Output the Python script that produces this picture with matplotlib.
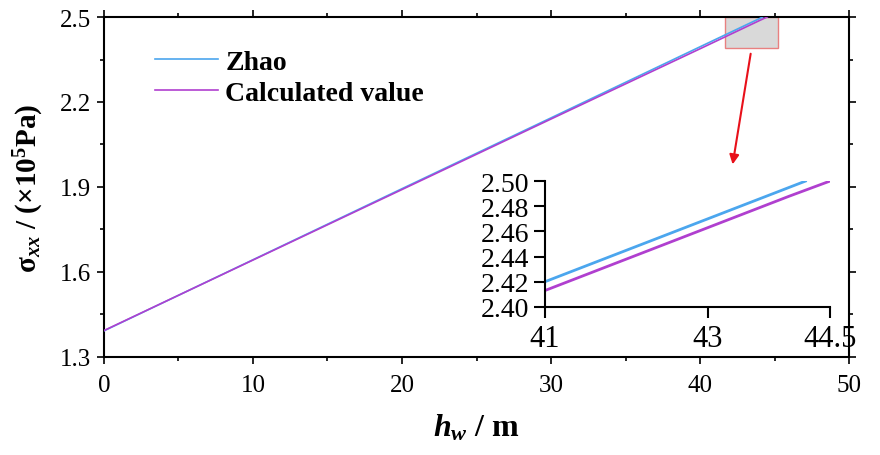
import matplotlib
matplotlib.use("Agg")
import matplotlib.pyplot as plt
from matplotlib.patches import Rectangle
from matplotlib.ticker import FixedLocator

plt.rcParams['font.family'] = ['Liberation Serif', 'DejaVu Serif']
plt.rcParams['mathtext.fontset'] = 'custom'
plt.rcParams['mathtext.rm'] = 'Liberation Serif:bold'
plt.rcParams['mathtext.it'] = 'Liberation Serif:italic:bold'
plt.rcParams['mathtext.bf'] = 'Liberation Serif:bold'

# Data
hw_zhao = [0, 10, 20, 30, 40, 41, 42, 43, 44, 44.2]
sig_zhao = [1.392, 1.643, 1.894, 2.144, 2.395, 2.420, 2.445, 2.470, 2.495, 2.500]
hw_calc = [0, 10, 20, 30, 40, 41, 42, 43, 44, 44.5]
sig_calc = [1.393, 1.642, 1.891, 2.140, 2.388, 2.413, 2.438, 2.463, 2.488, 2.500]
labels = ["Zhao", "Calculated value"]
x_ticks = [0, 10, 20, 30, 40, 50]
y_ticks = [1.3, 1.6, 1.9, 2.2, 2.5]
y_ticklabels = ['1.3', '1.6', '1.9', '2.2', '2.5']
inset_x_ticks = [41, 43, 44.5]
inset_x_labels = ['41', '43', '44.5']
inset_y_ticks = [2.40, 2.42, 2.44, 2.46, 2.48, 2.50]
inset_y_labels = ['2.40', '2.42', '2.44', '2.46', '2.48', '2.50']
c_zhao = "#4ba6ee"
c_calc = "#b03fcf"

fig = plt.figure(figsize=(8.8, 4.56), dpi=100)
ax = fig.add_axes([0.118, 0.215, 0.847, 0.7455])
ax.plot(hw_zhao, sig_zhao, color=c_zhao, lw=1.2, label=labels[0], zorder=3)
ax.plot(hw_calc, sig_calc, color=c_calc, lw=1.2, label=labels[1], zorder=3)
ax.set_xlim(0, 50)
ax.set_ylim(1.3, 2.5)
ax.xaxis.set_major_locator(FixedLocator(x_ticks))
ax.xaxis.set_minor_locator(FixedLocator([5, 15, 25, 35, 45]))
ax.yaxis.set_major_locator(FixedLocator(y_ticks))
ax.yaxis.set_minor_locator(FixedLocator([1.45, 1.75, 2.05, 2.35]))
ax.set_yticklabels(y_ticklabels)
ax.tick_params(which='both', direction='out', top=True, right=True,
               labeltop=False, labelright=False, width=1.2)
ax.tick_params(which='major', length=5, labelsize=18, pad=4)
ax.tick_params(axis='x', which='major', pad=7)
ax.tick_params(which='minor', length=3)
for s in ax.spines.values():
    s.set_linewidth(1.5)

ax.set_xlabel(r'$h_w$ / m', fontsize=23, fontweight='bold', labelpad=12)
ax.set_ylabel(r'$\mathrm{\sigma}_{xx}$ / (×10$^{5}$Pa)', fontsize=21,
              fontweight='bold', labelpad=10)

leg = ax.legend(loc='upper left', bbox_to_anchor=(0.068, 0.905), frameon=False,
                prop={'weight': 'bold', 'size': 20}, handlelength=2.3,
                handletextpad=0.25, labelspacing=0.2, borderpad=0,
                borderaxespad=0)

rect = Rectangle((41.7, 2.39), 3.5, 0.11, facecolor='#d9d9d9',
                 edgecolor='#e88080', lw=1.0, zorder=2, clip_on=False)
ax.add_patch(rect)
ax.annotate('', xy=(42.15, 1.97), xytext=(43.42, 2.38),
            arrowprops=dict(arrowstyle='-|>', color='#e8101a', lw=1.5,
                            mutation_scale=14))

ins = fig.add_axes([0.619, 0.3246, 0.324, 0.276])
ins.plot(hw_zhao, sig_zhao, color=c_zhao, lw=2.0)
ins.plot(hw_calc, sig_calc, color=c_calc, lw=2.0)
ins.set_xlim(41, 44.5)
ins.set_ylim(2.40, 2.50)
ins.set_xticks(inset_x_ticks)
ins.set_xticklabels(inset_x_labels)
ins.set_yticks(inset_y_ticks)
ins.set_yticklabels(inset_y_labels)
ins.spines['top'].set_visible(False)
ins.spines['right'].set_visible(False)
for s in ['left', 'bottom']:
    ins.spines[s].set_linewidth(1.5)
ins.tick_params(direction='out', length=8, width=1.5, labelsize=20, pad=3)
ins.tick_params(axis='x', labelsize=22, pad=4)
ins.patch.set_alpha(0)

fig.savefig('out.png', dpi=100)
